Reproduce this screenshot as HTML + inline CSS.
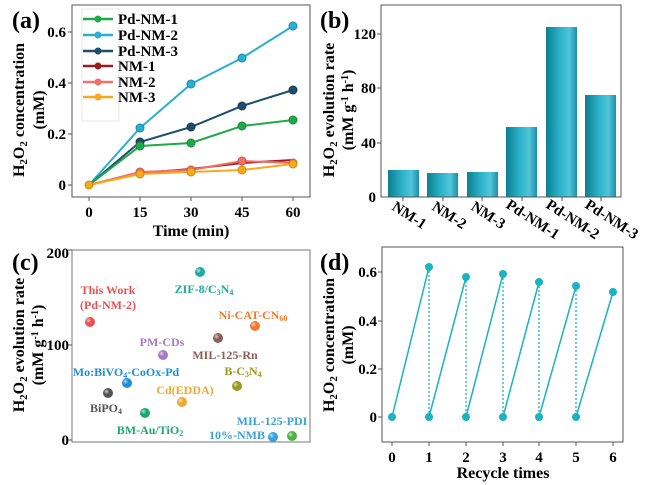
<!DOCTYPE html>
<html><head><meta charset="utf-8"><style>
body{margin:0;background:#fff}
svg{display:block;font-family:"Liberation Serif",serif;font-weight:bold}
</style></head><body>
<svg width="656" height="485" viewBox="0 0 656 485">
<defs>
<linearGradient id="bar" x1="0" x2="1" y1="0" y2="0">
<stop offset="0" stop-color="#0d7f93"/><stop offset="0.45" stop-color="#2ab3c9"/><stop offset="0.75" stop-color="#50c5dc"/><stop offset="1" stop-color="#1d8fa6"/></linearGradient>
<radialGradient id="ball" cx="0.35" cy="0.35" r="0.7"><stop offset="0" stop-color="#fff" stop-opacity="0.7"/><stop offset="0.4" stop-color="#fff" stop-opacity="0"/></radialGradient>
</defs>
<!-- (a) -->
<g>
<rect x="72" y="5" width="238" height="192" fill="none" stroke="#555" stroke-width="1"/>
<text x="12" y="28" font-size="24">(a)</text>
<g font-size="15" text-anchor="end">
<text x="66" y="190">0</text><text x="66" y="139">0.2</text><text x="66" y="88">0.4</text><text x="66" y="37">0.6</text></g>
<g stroke="#555"><line x1="72" y1="185" x2="68" y2="185"/><line x1="72" y1="134" x2="68" y2="134"/><line x1="72" y1="83" x2="68" y2="83"/><line x1="72" y1="32" x2="68" y2="32"/>
<line x1="89" y1="197" x2="89" y2="201"/><line x1="140" y1="197" x2="140" y2="201"/><line x1="191" y1="197" x2="191" y2="201"/><line x1="242" y1="197" x2="242" y2="201"/><line x1="293" y1="197" x2="293" y2="201"/></g>
<g font-size="15" text-anchor="middle"><text x="89" y="217">0</text><text x="140" y="217">15</text><text x="191" y="217">30</text><text x="242" y="217">45</text><text x="293" y="217">60</text></g>
<text x="191" y="236" font-size="16" text-anchor="middle">Time (min)</text>
<text transform="translate(24,110) rotate(-90)" font-size="16" text-anchor="middle">H<tspan font-size="11" dy="3">2</tspan><tspan dy="-3">O</tspan><tspan font-size="11" dy="3">2</tspan><tspan dy="-3"> concentration</tspan></text>
<text transform="translate(44,110) rotate(-90)" font-size="16" text-anchor="middle">(mM)</text>
<g fill="none" stroke-width="2">
<polyline stroke="#29b0d0" points="89,185 140,128 191,84 242,58 293,26"/>
<polyline stroke="#1d4e6b" points="89,185 140,142 191,127 242,106 293,90"/>
<polyline stroke="#1faa4a" points="89,185 140,146 191,143 242,126 293,120"/>
<polyline stroke="#9c1c1c" points="89,185 140,173 191,169 242,163 293,160"/>
<polyline stroke="#f0706a" points="89,185 140,172 191,170 242,161 293,163"/>
<polyline stroke="#f7a91d" points="89,185 140,174 191,172 242,170 293,164"/>
</g>
<g stroke-width="1">
<g fill="#29b0d0" stroke="#1a8aa8"><circle cx="140" cy="128" r="4"/><circle cx="191" cy="84" r="4"/><circle cx="242" cy="58" r="4"/><circle cx="293" cy="26" r="4"/></g>
<g fill="#1d4e6b" stroke="#143a50"><circle cx="140" cy="142" r="4"/><circle cx="191" cy="127" r="4"/><circle cx="242" cy="106" r="4"/><circle cx="293" cy="90" r="4"/></g>
<g fill="#1faa4a" stroke="#158a3a"><circle cx="140" cy="146" r="4"/><circle cx="191" cy="143" r="4"/><circle cx="242" cy="126" r="4"/><circle cx="293" cy="120" r="4"/></g>
<g fill="#f0706a" stroke="#d05050"><circle cx="140" cy="172" r="4"/><circle cx="191" cy="170" r="4"/><circle cx="242" cy="161" r="4"/><circle cx="293" cy="163" r="4"/></g>
<g fill="#f7a91d" stroke="#d08a10"><circle cx="89" cy="185" r="4"/><circle cx="140" cy="174" r="4"/><circle cx="191" cy="172" r="4"/><circle cx="242" cy="170" r="4"/><circle cx="293" cy="164" r="4"/></g>
</g>
<rect x="82" y="9" width="37" height="112" fill="none" stroke="#ddd" stroke-width="0.7"/>
<g stroke-width="2.5">
<line x1="83" y1="19" x2="113" y2="19" stroke="#1faa4a"/><circle cx="98" cy="19" r="3.5" fill="#1faa4a"/>
<line x1="83" y1="35" x2="113" y2="35" stroke="#29b0d0"/><circle cx="98" cy="35" r="3.5" fill="#29b0d0"/>
<line x1="83" y1="51" x2="113" y2="51" stroke="#1d4e6b"/><circle cx="98" cy="51" r="3.5" fill="#1d4e6b"/>
<line x1="83" y1="66" x2="113" y2="66" stroke="#9c1c1c"/><circle cx="98" cy="66" r="3.5" fill="#9c1c1c"/>
<line x1="83" y1="82" x2="113" y2="82" stroke="#f0706a"/><circle cx="98" cy="82" r="3.5" fill="#f0706a"/>
<line x1="83" y1="97" x2="113" y2="97" stroke="#f7a91d"/><circle cx="98" cy="97" r="3.5" fill="#f7a91d"/>
</g>
<g font-size="15"><text x="118" y="24">Pd-NM-1</text><text x="118" y="40">Pd-NM-2</text><text x="118" y="56">Pd-NM-3</text><text x="118" y="71">NM-1</text><text x="118" y="87">NM-2</text><text x="118" y="102">NM-3</text></g>
</g>
<!-- (b) -->
<g>
<text x="320" y="28" font-size="24">(b)</text>
<g fill="url(#bar)">
<rect x="388" y="170" width="31" height="27"/><rect x="427" y="173" width="31" height="24"/><rect x="467" y="172" width="31" height="25"/>
<rect x="506" y="127" width="31" height="70"/><rect x="546" y="27" width="31" height="170"/><rect x="585" y="95" width="31" height="102"/></g>
<rect x="381" y="5" width="240" height="192" fill="none" stroke="#555"/>
<g font-size="15" text-anchor="end"><text x="376" y="202">0</text><text x="376" y="148">40</text><text x="376" y="93">80</text><text x="376" y="39">120</text></g>
<g stroke="#555"><line x1="381" y1="143" x2="377" y2="143"/><line x1="381" y1="88" x2="377" y2="88"/><line x1="381" y1="34" x2="377" y2="34"/>
<line x1="403" y1="197" x2="403" y2="201"/><line x1="443" y1="197" x2="443" y2="201"/><line x1="482" y1="197" x2="482" y2="201"/><line x1="522" y1="197" x2="522" y2="201"/><line x1="562" y1="197" x2="562" y2="201"/><line x1="601" y1="197" x2="601" y2="201"/></g>
<g font-size="15">
<text transform="translate(391,209) rotate(33)">NM-1</text><text transform="translate(431,209) rotate(33)">NM-2</text><text transform="translate(470,209) rotate(33)">NM-3</text>
<text transform="translate(505,207) rotate(33)">Pd-NM-1</text><text transform="translate(545,207) rotate(33)">Pd-NM-2</text><text transform="translate(584,207) rotate(33)">Pd-NM-3</text></g>
<text transform="translate(334,110) rotate(-90)" font-size="16" text-anchor="middle">H<tspan font-size="11" dy="3">2</tspan><tspan dy="-3">O</tspan><tspan font-size="11" dy="3">2</tspan><tspan dy="-3"> evolution rate</tspan></text>
<text transform="translate(353,110) rotate(-90)" font-size="16" text-anchor="middle">(mM g<tspan font-size="10" dy="-5">-1</tspan><tspan dy="5"> h</tspan><tspan font-size="10" dy="-5">-1</tspan><tspan dy="5">)</tspan></text>
</g>
<!-- (c) -->
<g>
<rect x="72" y="250" width="238" height="192" fill="none" stroke="#777"/>
<text x="12" y="270" font-size="24">(c)</text>
<g font-size="15" text-anchor="end"><text x="69" y="258">200</text><text x="69" y="350">100</text><text x="69" y="445">0</text></g>
<g stroke="#555"><line x1="72" y1="250" x2="68" y2="250"/><line x1="72" y1="345" x2="68" y2="345"/><line x1="72" y1="440" x2="68" y2="440"/></g>
<text transform="translate(24,345) rotate(-90)" font-size="16" text-anchor="middle">H<tspan font-size="11" dy="3">2</tspan><tspan dy="-3">O</tspan><tspan font-size="11" dy="3">2</tspan><tspan dy="-3"> evolution rate</tspan></text>
<text transform="translate(43,345) rotate(-90)" font-size="16" text-anchor="middle">(mM g<tspan font-size="10" dy="-5">-1</tspan><tspan dy="5"> h</tspan><tspan font-size="10" dy="-5">-1</tspan><tspan dy="5">)</tspan></text>
<g>
<circle cx="90" cy="322" r="5" fill="#ee5050"/><circle cx="200" cy="272" r="5" fill="#1aaea0"/><circle cx="255" cy="326" r="5" fill="#f37a30"/>
<circle cx="218" cy="338" r="5" fill="#8e5c58"/><circle cx="163" cy="355" r="5" fill="#a87ac4"/><circle cx="127" cy="383" r="5" fill="#1f8fd8"/>
<circle cx="237" cy="386" r="5" fill="#9a9a20"/><circle cx="108" cy="393" r="5" fill="#555"/><circle cx="182" cy="402" r="5" fill="#f0a830"/>
<circle cx="145" cy="413" r="5" fill="#1aa870"/><circle cx="273" cy="437" r="5" fill="#3aa0e0"/><circle cx="292" cy="436" r="5" fill="#50b040"/>
</g>
<g fill="url(#ball)"><circle cx="90" cy="322" r="5"/><circle cx="200" cy="272" r="5"/><circle cx="255" cy="326" r="5"/><circle cx="218" cy="338" r="5"/><circle cx="163" cy="355" r="5"/><circle cx="127" cy="383" r="5"/><circle cx="237" cy="386" r="5"/><circle cx="108" cy="393" r="5"/><circle cx="182" cy="402" r="5"/><circle cx="145" cy="413" r="5"/><circle cx="273" cy="437" r="5"/><circle cx="292" cy="436" r="5"/></g>
<g font-size="12" text-anchor="middle">
<text x="108" y="294" fill="#ee5050">This Work</text><text x="108" y="309" fill="#ee5050">(Pd-NM-2)</text>
<text x="204" y="293" fill="#1aaea0">ZIF-8/C<tspan font-size="8" dy="2">3</tspan><tspan dy="-2">N</tspan><tspan font-size="8" dy="2">4</tspan></text>
<text x="253" y="319" fill="#f37a30">Ni-CAT-CN<tspan font-size="8" dy="2">60</tspan></text>
<text x="162" y="346" fill="#a87ac4">PM-CDs</text>
<text x="225" y="359" fill="#8e5c58">MIL-125-Rn</text>
<text x="126" y="376" fill="#1f8fd8">Mo:BiVO<tspan font-size="8" dy="2">4</tspan><tspan dy="-2">-CoOx-Pd</tspan></text>
<text x="243" y="375" fill="#9a9a20">B-C<tspan font-size="8" dy="2">3</tspan><tspan dy="-2">N</tspan><tspan font-size="8" dy="2">4</tspan></text>
<text x="106" y="412" fill="#555">BiPO<tspan font-size="8" dy="2">4</tspan></text>
<text x="185" y="394" fill="#f0a830">Cd(EDDA)</text>
<text x="150" y="434" fill="#1aa870">BM-Au/TiO<tspan font-size="8" dy="2">2</tspan></text>
<text x="272" y="425" fill="#3aa0e0">MIL-125-PDI</text>
<text x="237" y="439" fill="#3aa0e0">10%-NMB</text>
</g>
</g>
<!-- (d) -->
<g>
<text x="320" y="270" font-size="24">(d)</text>
<rect x="382" y="247" width="241" height="195" fill="none" stroke="#555"/>
<g font-size="15" text-anchor="end"><text x="377" y="422">0</text><text x="377" y="374">0.2</text><text x="377" y="326">0.4</text><text x="377" y="277">0.6</text></g>
<g stroke="#555"><line x1="382" y1="417" x2="378" y2="417"/><line x1="382" y1="369" x2="378" y2="369"/><line x1="382" y1="321" x2="378" y2="321"/><line x1="382" y1="272" x2="378" y2="272"/>
<line x1="392" y1="442" x2="392" y2="446"/><line x1="429" y1="442" x2="429" y2="446"/><line x1="466" y1="442" x2="466" y2="446"/><line x1="503" y1="442" x2="503" y2="446"/><line x1="539" y1="442" x2="539" y2="446"/><line x1="576" y1="442" x2="576" y2="446"/><line x1="613" y1="442" x2="613" y2="446"/></g>
<g font-size="15" text-anchor="middle"><text x="392" y="462">0</text><text x="429" y="462">1</text><text x="466" y="462">2</text><text x="503" y="462">3</text><text x="539" y="462">4</text><text x="576" y="462">5</text><text x="613" y="462">6</text></g>
<text x="503" y="478" font-size="16" text-anchor="middle">Recycle times</text>
<text transform="translate(334,345) rotate(-90)" font-size="16" text-anchor="middle">H<tspan font-size="11" dy="3">2</tspan><tspan dy="-3">O</tspan><tspan font-size="11" dy="3">2</tspan><tspan dy="-3"> concentration</tspan></text>
<text transform="translate(353,345) rotate(-90)" font-size="16" text-anchor="middle">(mM)</text>
<g fill="none" stroke="#1bb3c0" stroke-width="1.5">
<polyline points="392,417 429,267"/><polyline points="429,417 466,277"/><polyline points="466,417 503,274"/><polyline points="503,417 539,282"/><polyline points="539,417 576,286"/><polyline points="576,417 613,292"/>
</g>
<g stroke="#1bb3c0" stroke-width="1.3" stroke-dasharray="2,2">
<line x1="429" y1="267" x2="429" y2="417"/><line x1="466" y1="277" x2="466" y2="417"/><line x1="503" y1="274" x2="503" y2="417"/><line x1="539" y1="282" x2="539" y2="417"/><line x1="576" y1="286" x2="576" y2="417"/></g>
<g fill="#1bb3c0"><circle cx="392" cy="417" r="4"/><circle cx="429" cy="267" r="4"/><circle cx="429" cy="417" r="4"/><circle cx="466" cy="277" r="4"/><circle cx="466" cy="417" r="4"/><circle cx="503" cy="274" r="4"/><circle cx="503" cy="417" r="4"/><circle cx="539" cy="282" r="4"/><circle cx="539" cy="417" r="4"/><circle cx="576" cy="286" r="4"/><circle cx="576" cy="417" r="4"/><circle cx="613" cy="292" r="4"/></g>
</g>
</svg>
</body></html>
